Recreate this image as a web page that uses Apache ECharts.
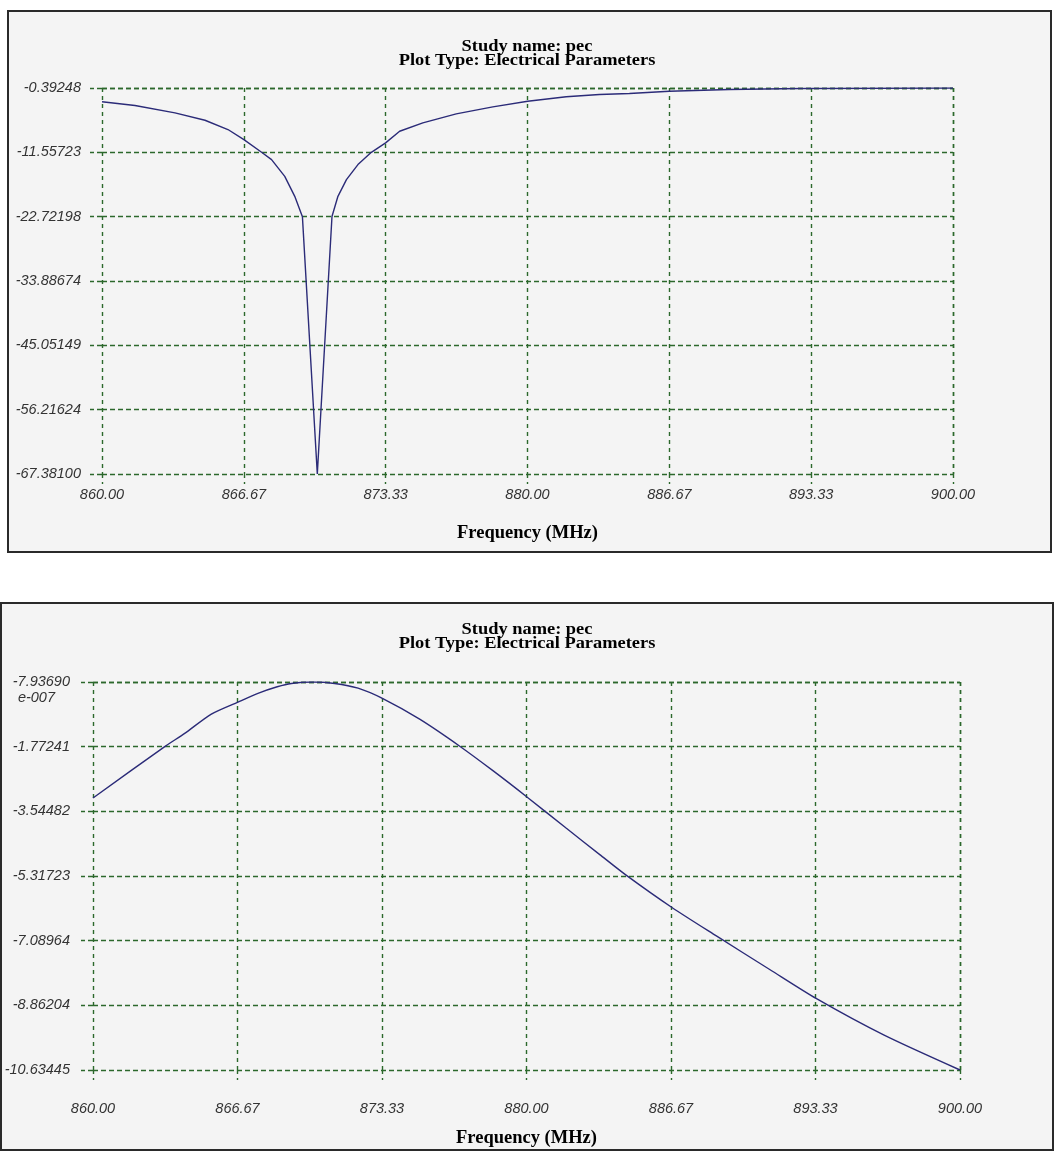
<!DOCTYPE html>
<html><head><meta charset="utf-8">
<script src="https://cdn.jsdelivr.net/npm/echarts@6/dist/echarts.min.js"></script>
<style>html,body{margin:0;padding:0;background:#fff}#c{width:1056px;height:1153px}</style>
</head><body><div id="c"></div>
<script>
// ---- data ----
const freqTop = [860.0, 861.55, 863.43, 864.84, 865.92, 866.67, 867.50, 867.97, 868.59, 869.06, 869.42, 870.12, 870.81, 871.09, 871.49, 872.03, 872.66, 873.33, 873.99, 875.08, 876.65, 878.37, 880.01, 881.82, 883.38, 884.79, 886.67, 889.48, 892.77, 900.0];
const valTop = [-2.79, -3.43, -4.70, -5.99, -7.60, -9.34, -11.55, -12.82, -15.72, -19.19, -22.72, -67.381, -22.70, -19.19, -16.29, -13.68, -11.55, -9.91, -7.90, -6.44, -4.88, -3.66, -2.69, -1.92, -1.52, -1.35, -0.95, -0.65, -0.48, -0.39248];

const freqBottom = [860.0, 863.31, 864.23, 865.46, 866.69, 867.61, 868.50, 869.15, 870.14, 871.15, 872.23, 873.35, 875.07, 876.92, 878.45, 880.02, 881.84, 883.38, 884.61, 886.71, 888.76, 891.22, 893.38, 896.50, 900.0];
const valBottom = [-3.18, -1.77, -1.41, -0.88, -0.55, -0.31, -0.13, -0.04, -7.9369e-7, -0.04, -0.17, -0.45, -1.02, -1.76, -2.43, -3.15, -4.01, -4.73, -5.30, -6.18, -6.96, -7.88, -8.68, -9.68, -10.63445];

const xTickValues = [860, 866.6667, 873.3333, 880, 886.6667, 893.3333, 900];
const xTickLabels = ['860.00', '866.67', '873.33', '880.00', '886.67', '893.33', '900.00'];
const topTickValues = [-67.381, -56.21624, -45.05149, -33.88674, -22.72198, -11.55723, -0.39248];
const topTickLabels = ['-67.38100', '-56.21624', '-45.05149', '-33.88674', '-22.72198', '-11.55723', '-0.39248'];
const bottomTickValues = [-10.63445, -8.86204, -7.08964, -5.31723, -3.54482, -1.77241, -7.9369e-7];
const bottomTickLabels = ['-10.63445', '-8.86204', '-7.08964', '-5.31723', '-3.54482', '-1.77241', '{s| }\n{a|-7.93690}\n{b|e-007}'];

const titleLines = ['Study name: pec', 'Plot Type: Electrical Parameters'];
const xName = 'Frequency (MHz)';

// ---- helpers ----
function nearestLabel(vals, labels) {
  return function (v) {
    let bi = 0, bd = Infinity;
    for (let i = 0; i < vals.length; i++) { const d = Math.abs(vals[i] - v); if (d < bd) { bd = d; bi = i; } }
    return labels[bi];
  };
}
const gridGreen = '#2c682c';
const lineBlue = '#2b2b78';
const labelFont = { color: '#333', fontStyle: 'italic', fontFamily: 'Liberation Sans, Arial, sans-serif', fontSize: 14.5 };
const serifFamily = 'Liberation Serif, Times New Roman, serif';

function xAxisCfg(gi, labelMargin, nameGap) {
  return {
    type: 'value', gridIndex: gi, min: xTickValues[0], max: xTickValues[6],
    interval: (xTickValues[6] - xTickValues[0]) / 6,
    axisLine: { show: false },
    axisTick: { show: true, length: 10, lineStyle: { color: gridGreen, type: [4, 4], width: 1.4 } },
    splitLine: { show: true, lineStyle: { color: gridGreen, type: [4, 4], width: 1.4 } },
    axisLabel: Object.assign({ margin: labelMargin, formatter: nearestLabel(xTickValues, xTickLabels), showMinLabel: true, showMaxLabel: true }, labelFont),
    name: xName, nameLocation: 'middle', nameGap: nameGap,
    nameTextStyle: { fontSize: 18.5, fontFamily: serifFamily, fontWeight: 'bold', color: '#000' }
  };
}
function yAxisCfg(gi, vals, labels, margin) {
  return {
    type: 'value', gridIndex: gi, min: vals[0], max: vals[6],
    interval: (vals[6] - vals[0]) / 6,
    axisLine: { show: false },
    axisTick: { show: true, length: 12, lineStyle: { color: gridGreen, type: [5, 3], width: 1.4 } },
    splitLine: { show: true, lineStyle: { color: gridGreen, type: [5, 3], width: 1.4 } },
    axisLabel: Object.assign({
      margin: margin, formatter: nearestLabel(vals, labels), showMinLabel: true, showMaxLabel: true,
      rich: {
        s: { fontSize: 14, lineHeight: 16 },
        a: Object.assign({ lineHeight: 16 }, labelFont),
        b: Object.assign({ lineHeight: 16, padding: [0, 15, 0, 0] }, labelFont)
      }
    }, labelFont)
  };
}
function pairs(xs, ys) { return xs.map((x, i) => [x, ys[i]]); }
function titleText(y) {
  return {
    type: 'text', x: 527, y: y, scaleX: 1.15, z: 10,
    style: { text: titleLines.join('\n'), align: 'center', verticalAlign: 'top', fontSize: 16, lineHeight: 14, fontWeight: 'bold', fontFamily: serifFamily, fill: '#000' }
  };
}

const chart = echarts.init(document.getElementById('c'), null, { renderer: 'canvas' });
chart.setOption({
  animation: false,
  backgroundColor: '#ffffff',
  graphic: [
    { type: 'rect', z: -10, shape: { x: 8, y: 11, width: 1043, height: 541 }, style: { fill: '#f4f4f4', stroke: '#2a2a2a', lineWidth: 2 } },
    { type: 'rect', z: -10, shape: { x: 1, y: 603, width: 1052, height: 547 }, style: { fill: '#f4f4f4', stroke: '#2a2a2a', lineWidth: 2 } },
    titleText(40),
    titleText(623)
  ],
  grid: [
    { left: 102, right: 103, top: 88, height: 386 },
    { left: 93, right: 96, top: 682, height: 388 }
  ],
  xAxis: [xAxisCfg(0, 13, 50), xAxisCfg(1, 31, 59)],
  yAxis: [yAxisCfg(0, topTickValues, topTickLabels, 21), yAxisCfg(1, bottomTickValues, bottomTickLabels, 23)],
  series: [
    { type: 'line', xAxisIndex: 0, yAxisIndex: 0, data: pairs(freqTop, valTop), showSymbol: false, lineStyle: { color: lineBlue, width: 1.4 }, z: 5 },
    { type: 'line', xAxisIndex: 1, yAxisIndex: 1, data: pairs(freqBottom, valBottom), showSymbol: false, smooth: 0.25, lineStyle: { color: lineBlue, width: 1.4 }, z: 5 }
  ]
});
</script></body></html>
